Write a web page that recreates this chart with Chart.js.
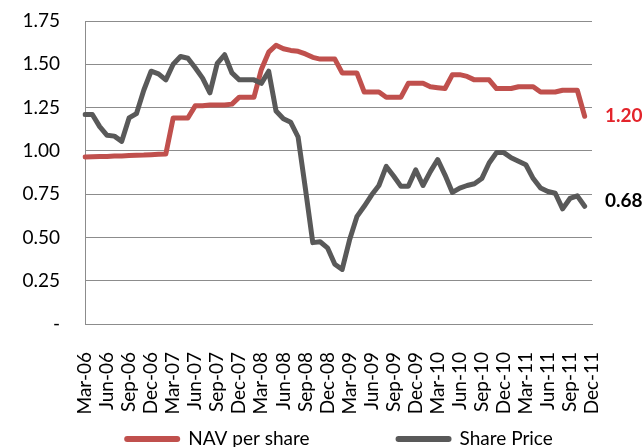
<!DOCTYPE html>
<html>
<head>
<meta charset="utf-8">
<script src="https://cdn.jsdelivr.net/npm/chart.js@4/dist/chart.umd.min.js"></script>
<style>
html,body{margin:0;padding:0;background:#fff;}
#wrap{width:643px;height:447px;position:relative;}
</style>
</head>
<body>
<div id="wrap"><canvas id="c" width="643" height="447"></canvas></div>
<script>
const months = [
 'Mar-06','Apr-06','May-06','Jun-06','Jul-06','Aug-06','Sep-06','Oct-06','Nov-06','Dec-06',
 'Jan-07','Feb-07','Mar-07','Apr-07','May-07','Jun-07','Jul-07','Aug-07','Sep-07','Oct-07','Nov-07','Dec-07',
 'Jan-08','Feb-08','Mar-08','Apr-08','May-08','Jun-08','Jul-08','Aug-08','Sep-08','Oct-08','Nov-08','Dec-08',
 'Jan-09','Feb-09','Mar-09','Apr-09','May-09','Jun-09','Jul-09','Aug-09','Sep-09','Oct-09','Nov-09','Dec-09',
 'Jan-10','Feb-10','Mar-10','Apr-10','May-10','Jun-10','Jul-10','Aug-10','Sep-10','Oct-10','Nov-10','Dec-10',
 'Jan-11','Feb-11','Mar-11','Apr-11','May-11','Jun-11','Jul-11','Aug-11','Sep-11','Oct-11','Nov-11','Dec-11'
];
const shownMonthLabels = ['Mar-06','Jun-06','Sep-06','Dec-06','Mar-07','Jun-07','Sep-07','Dec-07',
 'Mar-08','Jun-08','Sep-08','Dec-08','Mar-09','Jun-09','Sep-09','Dec-09',
 'Mar-10','Jun-10','Sep-10','Dec-10','Mar-11','Jun-11','Sep-11','Dec-11'];

const navPerShare = [
 0.965,0.966,0.967,0.968,0.970,0.971,0.973,0.975,0.976,0.978,0.980,0.982,
 1.19,1.19,1.19,1.26,1.26,1.265,1.265,1.265,1.27,1.31,1.31,1.31,
 1.47,1.57,1.61,1.59,1.58,1.575,1.56,1.54,1.53,1.53,1.53,1.45,1.45,1.45,
 1.34,1.34,1.34,1.31,1.31,1.31,1.39,1.39,1.39,1.37,1.365,1.36,
 1.44,1.44,1.43,1.41,1.41,1.41,1.36,1.36,1.36,1.37,1.37,1.37,
 1.34,1.34,1.34,1.35,1.35,1.35,1.20
];
const sharePrice = [
 1.21,1.21,1.14,1.09,1.085,1.055,1.19,1.215,1.35,1.46,1.445,1.41,
 1.50,1.545,1.535,1.48,1.42,1.335,1.505,1.555,1.45,1.41,1.41,1.41,
 1.39,1.46,1.23,1.185,1.165,1.08,0.78,0.47,0.475,0.44,0.345,0.315,
 0.485,0.62,0.68,0.745,0.80,0.91,0.855,0.795,0.795,0.89,0.80,0.88,
 0.95,0.86,0.76,0.785,0.80,0.81,0.84,0.93,0.99,0.99,0.96,0.94,
 0.92,0.84,0.785,0.765,0.755,0.665,0.725,0.74,0.68
];
const seriesNames = ['NAV per share','Share Price'];
const endLabels = ['1.20','0.68'];
const yTickValues = [0,0.25,0.5,0.75,1.0,1.25,1.5,1.75];
const yTickLabels = ['-','0.25','0.50','0.75','1.00','1.25','1.50','1.75'];

const RED = '#C0504D', GREY = '#595959';
const endLabelColors = ['#E3242B','#000000'];
const endLabelShift = [0, -5];
const FONT = 'Lato';

const endLabelPlugin = {
  id: 'endLabels',
  afterDatasetsDraw(chart) {
    const ctx = chart.ctx, ca = chart.chartArea;
    ctx.save();
    ctx.font = 'bold 19px ' + FONT;
    ctx.textAlign = 'left';
    ctx.textBaseline = 'middle';
    chart.data.datasets.forEach((ds, i) => {
      const meta = chart.getDatasetMeta(i);
      const pt = meta.data[meta.data.length - 1];
      if (!pt) return;
      ctx.fillStyle = endLabelColors[i];
      ctx.fillText(endLabels[i], ca.right + 13, pt.y + endLabelShift[i]);
    });
    ctx.restore();
  }
};

const legendPlugin = {
  id: 'bottomLegend',
  afterDraw(chart) {
    const ctx = chart.ctx, ca = chart.chartArea;
    ctx.save();
    ctx.font = '19px ' + FONT;
    const sw = 56, gap = 8, spacing = 86;
    const items = chart.data.datasets.map(d => ({text: d.label, color: d.borderColor, w: ctx.measureText(d.label).width}));
    const total = items.reduce((a, it) => a + sw + gap + it.w, 0) + spacing * (items.length - 1);
    let x = (ca.left + ca.right) / 2 - total / 2;
    const y = 439;
    items.forEach(it => {
      ctx.strokeStyle = it.color;
      ctx.lineWidth = 6;
      ctx.lineCap = 'round';
      ctx.beginPath();
      ctx.moveTo(x + 3, y);
      ctx.lineTo(x + sw - 3, y);
      ctx.stroke();
      ctx.fillStyle = '#000';
      ctx.textAlign = 'left';
      ctx.textBaseline = 'middle';
      ctx.fillText(it.text, x + sw + gap, y);
      x += sw + gap + it.w + spacing;
    });
    ctx.restore();
  }
};

new Chart(document.getElementById('c'), {
  type: 'line',
  data: {
    labels: months,
    datasets: [
      {label: seriesNames[0], data: navPerShare, borderColor: RED, backgroundColor: RED, borderWidth: 5, pointRadius: 0, tension: 0, borderJoinStyle: 'round', borderCapStyle: 'round', order: 1},
      {label: seriesNames[1], data: sharePrice, borderColor: GREY, backgroundColor: GREY, borderWidth: 5, pointRadius: 0, tension: 0, borderJoinStyle: 'round', borderCapStyle: 'round', order: 0}
    ]
  },
  options: {
    responsive: false,
    devicePixelRatio: 1,
    animation: false,
    layout: {padding: {top: 21, right: 51, left: 0, bottom: 0}},
    plugins: {legend: {display: false}, tooltip: {enabled: false}},
    scales: {
      x: {
        type: 'category',
        offset: false,
        grid: {display: false},
        border: {display: true, color: '#8c8c8c', width: 1},
        ticks: {
          autoSkip: false, maxRotation: 90, minRotation: 90, padding: 20,
          color: '#000', font: {family: FONT, size: 19},
          callback: function(val, idx) { return shownMonthLabels.includes(months[idx]) ? months[idx] : ''; }
        },
        afterFit: s => { s.height = 123; s.paddingLeft = 0; s.paddingRight = 0; }
      },
      y: {
        min: 0, max: 1.75,
        afterBuildTicks: s => { s.ticks = yTickValues.map(v => ({value: v})); },
        grid: {color: '#8c8c8c', lineWidth: 1, drawTicks: false},
        border: {display: true, color: '#8c8c8c', width: 1},
        ticks: {
          padding: 25, color: '#000', font: {family: FONT, size: 19},
          callback: function(val, idx) { return yTickLabels[idx]; }
        },
        afterFit: s => { s.width = 85; s.paddingTop = 0; s.paddingBottom = 0; }
      }
    }
  },
  plugins: [endLabelPlugin, legendPlugin]
});
</script>
</body>
</html>
